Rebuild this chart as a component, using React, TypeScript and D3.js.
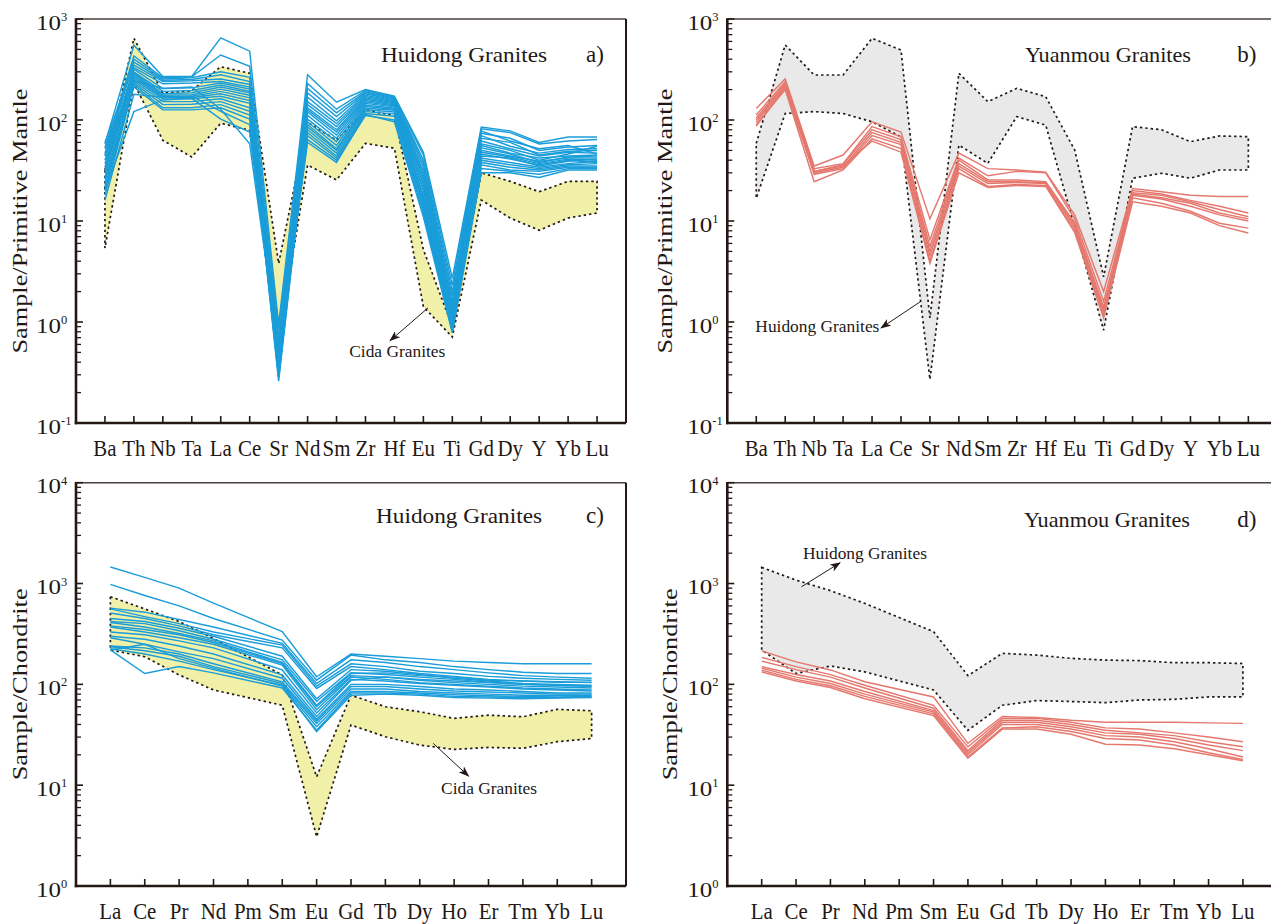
import React from 'react';
import * as d3 from 'd3';

// ---------- element orders ----------
const SPIDER_ELEMENTS = ['Ba', 'Th', 'Nb', 'Ta', 'La', 'Ce', 'Sr', 'Nd', 'Sm', 'Zr', 'Hf', 'Eu', 'Ti', 'Gd', 'Dy', 'Y', 'Yb', 'Lu'];
const REE_ELEMENTS = ['La', 'Ce', 'Pr', 'Nd', 'Pm', 'Sm', 'Eu', 'Gd', 'Tb', 'Dy', 'Ho', 'Er', 'Tm', 'Yb', 'Lu'];

// log-axis decades (exponents)
const PM_DECADES = [-1, 0, 1, 2, 3];
const CH_DECADES = [0, 1, 2, 3, 4];

// ---------- primitive-mantle normalized ----------
const huidongPM: number[][] = [
  [58, 550, 270, 270, 650, 480, 0.95, 280, 150, 200, 172, 48, 2.7, 85, 78, 60, 68, 68],
  [52, 430, 262, 268, 440, 340, 0.85, 230, 128, 196, 168, 45, 2.3, 82, 75, 58, 62, 64],
  [47, 400, 255, 262, 300, 265, 0.7, 205, 118, 190, 165, 40, 2.0, 78, 62, 52, 56, 46],
  [44, 375, 248, 252, 280, 240, 0.62, 185, 108, 186, 162, 37, 1.8, 74, 66, 50, 54, 56],
  [60, 350, 240, 245, 255, 225, 0.55, 168, 98, 182, 158, 34, 1.6, 70, 55, 47, 51, 52],
  [40, 330, 228, 232, 240, 212, 0.5, 152, 92, 176, 155, 31, 1.5, 66, 60, 45, 49, 50],
  [37, 318, 205, 208, 232, 202, 0.46, 142, 86, 171, 151, 29, 1.4, 62, 52, 44, 48, 47],
  [34, 300, 192, 196, 222, 192, 0.42, 132, 80, 166, 148, 27, 1.3, 58, 50, 40, 46, 55],
  [32, 292, 182, 186, 212, 186, 0.38, 126, 76, 160, 145, 25, 1.22, 56, 47, 42, 44, 45],
  [30, 282, 176, 178, 202, 176, 0.35, 120, 71, 156, 141, 23, 1.15, 53, 46, 38, 43, 44],
  [27, 272, 171, 172, 192, 166, 0.32, 111, 66, 151, 138, 21, 1.1, 50, 44, 39, 42, 42],
  [45, 262, 166, 167, 182, 156, 0.3, 102, 61, 146, 135, 20, 1.05, 48, 43, 37, 41, 40],
  [24, 252, 161, 162, 172, 146, 0.28, 96, 56, 141, 131, 18, 1.0, 46, 41, 36, 40, 38],
  [22, 242, 152, 152, 162, 132, 0.26, 90, 52, 136, 128, 17, 0.95, 44, 42, 35, 39, 41],
  [20, 232, 142, 143, 152, 122, 0.29, 85, 50, 131, 125, 16, 0.9, 42, 38, 34, 37, 39],
  [18, 222, 132, 132, 142, 112, 0.33, 80, 47, 126, 120, 15, 0.88, 40, 36, 33, 36, 37],
  [26, 212, 126, 126, 132, 102, 0.36, 75, 44, 121, 115, 14, 0.85, 38, 34, 32, 35, 35],
  [16, 180, 168, 172, 122, 90, 0.4, 70, 42, 116, 109, 13, 0.82, 36, 32, 31, 34, 34],
  [20, 121, 158, 164, 102, 76, 0.45, 64, 40, 111, 100, 12, 0.8, 33, 31, 29, 33, 33],
  [54, 245, 205, 212, 128, 58, 0.5, 60, 38, 113, 96, 11, 0.78, 30, 30, 27, 32, 32],
];

const yuanmouPM: number[][] = [
  [130, 255, 35, 45, 96, 76, 10.5, 47, 33, 32, 30.5, 11.5, 2.0, 21, 19.5, 18, 17.5, 17.5],
  [112, 240, 33, 37, 86, 68, 6.5, 42, 28, 31, 30, 10.5, 1.6, 20, 18.5, 16, 14, 12],
  [105, 230, 31, 36, 80, 64, 5.6, 40, 25.5, 25.5, 24.5, 9.6, 1.4, 19, 18, 15.5, 13, 11],
  [100, 222, 30, 34, 75, 60, 5.0, 37, 24.5, 24.5, 24, 9.1, 1.3, 18.5, 17, 15, 12, 10.5],
  [95, 212, 29, 33, 70, 57, 4.5, 35, 23.5, 24, 23.5, 8.6, 1.25, 18, 16.5, 14, 11.5, 10],
  [90, 200, 24.5, 32, 65, 52, 4.0, 33, 22, 23, 22.5, 8.1, 1.15, 17, 15, 12.5, 9.5, 8.5],
  [87, 205, 31, 35, 62, 48, 3.8, 30, 21.5, 22.5, 22, 7.7, 1.1, 15.5, 14, 12, 9, 7.6],
];

// Cida granites field (PM)
const cidaPMUpper = [32, 645, 185, 195, 337, 290, 3.8, 95, 63, 126, 110, 5.2, 0.9, 30, 24.7, 19.5, 24.7, 24.7];
const cidaPMLower = [5.4, 231, 63, 43, 93, 79, 0.65, 35.8, 25.5, 58.7, 52.5, 1.42, 0.71, 16.1, 10.7, 8.1, 10.7, 12.0];

// Huidong granites field (PM)
const huidongPMUpper = [58.7, 553, 279, 279, 644, 493, 1.1, 290, 152, 206, 170, 50.5, 2.8, 86, 80, 61, 69.5, 68.4];
const huidongPMLower = [16.8, 116, 121, 116, 96, 68, 0.27, 56.5, 37.2, 108, 89, 8.8, 0.83, 26.5, 29.7, 26.5, 32, 32];

// ---------- chondrite normalized REE (Pm not analysed) ----------
const huidongREE: (number | null)[][] = [
  [1460, 1150, 900, 640, null, 333, 119, 200, 190, 180, 170, 165, 160, 160, 160],
  [980, 760, 600, 450, null, 275, 110, 195, 175, 165, 150, 140, 132, 128, 128],
  [570, 520, 440, 370, null, 255, 102, 175, 165, 150, 140, 130, 122, 118, 115],
  [560, 470, 400, 330, null, 245, 96, 160, 150, 135, 128, 120, 115, 112, 110],
  [510, 450, 380, 310, null, 230, 91, 150, 140, 128, 120, 112, 108, 105, 105],
  [450, 420, 360, 300, null, 190, 72, 140, 135, 125, 115, 108, 102, 100, 98],
  [420, 400, 340, 280, null, 175, 68, 130, 125, 118, 112, 105, 100, 98, 95],
  [410, 370, 320, 270, null, 165, 62, 128, 130, 122, 118, 110, 108, 106, 104],
  [380, 350, 310, 260, null, 161, 60, 122, 118, 110, 104, 100, 96, 94, 92],
  [370, 330, 290, 250, null, 155, 56, 118, 112, 104, 100, 96, 92, 90, 88],
  [330, 310, 270, 230, null, 139, 52, 112, 108, 102, 98, 94, 90, 88, 86],
  [300, 280, 240, 200, null, 124, 48, 110, 118, 112, 108, 104, 100, 98, 96],
  [290, 250, 210, 180, null, 115, 45, 100, 100, 95, 90, 88, 85, 82, 82],
  [240, 230, 200, 160, null, 106, 43, 95, 95, 90, 86, 84, 82, 80, 80],
  [236, 215, 190, 150, null, 102, 41, 90, 90, 85, 82, 80, 78, 78, 78],
  [225, 200, 170, 140, null, 98, 38, 85, 85, 82, 79, 77, 76, 75, 76],
  [220, 128, 150, 130, null, 92, 35, 82, 82, 80, 76, 75, 74, 74, 75],
  [219, 250, 180, 145, null, 96, 34, 78, 80, 78, 74, 73, 72, 73, 74],
];

const yuanmouREE: (number | null)[][] = [
  [215, 167, 139, 106, null, 75, 26, 48, 47, 44, 42, 42, 42, 41.5, 41],
  [185, 150, 125, 98, null, 62, 24, 46, 46, 42, 37, 36, 33, 30, 27],
  [170, 140, 118, 92, null, 58, 22, 44, 44, 40, 35, 33, 31, 27, 24],
  [150, 125, 108, 85, null, 55, 21, 42, 42, 38, 33, 32, 29, 25, 22],
  [145, 118, 102, 80, null, 53, 20, 40, 40, 36, 31, 30, 27, 23, 19],
  [138, 112, 97, 76, null, 51, 19, 37, 38, 34, 29, 28, 25, 21, 18],
  [133, 108, 93, 72, null, 49, 18.5, 36, 36, 32, 25.5, 25, 23, 20, 17.5],
];

const cidaREEUpper = [740, 560, 420, 285, null, 124, 12.1, 78, 60, 53.5, 46, 49.5, 47.7, 56.5, 54.7];
const cidaREELower = [219, 188, 124, 88, null, 62, 3.08, 39.5, 30.2, 25, 22.6, 23.7, 23.2, 27, 29];

const huidongREEUpper = [1446, 1080, 850, 635, null, 333, 122, 203, 195, 181, 174, 172, 164, 164, 161];
const huidongREELower = [219, 128, 152, 133, null, 88, 35, 62, 69, 67.6, 65.8, 70, 71, 75, 75];

// ---------- styling ----------
const INK = '#231815';
const BLUE = '#1a9dd9';
const SALMON = '#e5786e';
const YELLOW = '#f1f0a9';
const GREY = '#e9e9e9';
const FONT = '"Times New Roman", "Liberation Serif", Tinos, serif';

type Vals = (number | null)[];

interface Note {
  text: string;
  textIdx: number;
  textVal: number;
  textLen: number;
  from: [number, number];
  to: [number, number];
}

interface PanelProps {
  x0: number;
  y0: number;
  w: number;
  h: number;
  cats: string[];
  decades: number[];
  lines: Vals[];
  color: string;
  fieldUpper: Vals;
  fieldLower: Vals;
  fieldFill: string;
  title: string;
  titleDx: number;
  titleDy: number;
  letter: string;
  yTitle: string;
  yTitleLen: number;
  yTitleOff: number;
  note: Note;
}

function Panel(p: PanelProps) {
  const { x0, y0, w, h, cats, decades } = p;
  const lo = decades[0];
  const hi = decades[decades.length - 1];
  const x = d3.scalePoint<string>().domain(cats).range([x0, x0 + w]).padding(1);
  const y = d3.scaleLog().domain([Math.pow(10, lo), Math.pow(10, hi)]).range([y0 + h, y0]);
  const step = x.step();
  const fx = (idx: number) => (x(cats[0]) as number) + idx * step;

  const pts = (vals: Vals): [number, number][] =>
    vals
      .map((v, i) => (v == null ? null : ([x(cats[i]) as number, y(v)] as [number, number])))
      .filter((d): d is [number, number] => d !== null);

  const line = d3.line<[number, number]>();
  const fieldPts = [...pts(p.fieldUpper), ...pts(p.fieldLower).reverse()];
  const fieldPath = line(fieldPts) + 'Z';

  const minor: number[] = [];
  for (let k = lo; k < hi; k++) {
    for (let m = 2; m <= 9; m++) minor.push(m * Math.pow(10, k));
  }

  const yb = y0 + h;
  const n = p.note;

  return (
    <g fontFamily={FONT}>
      {/* field */}
      <path d={fieldPath} fill={p.fieldFill} stroke="none" />
      <path d={fieldPath} fill="none" stroke={INK} strokeWidth={1.7} strokeDasharray="2.4,3" />
      {/* samples */}
      {p.lines.map((vals, i) => (
        <path key={i} d={line(pts(vals)) || ''} fill="none" stroke={p.color} strokeWidth={1.45} />
      ))}

      {/* frame */}
      <line x1={x0} x2={x0 + w} y1={y0} y2={y0} stroke="#4a403d" strokeWidth={1.6} />
      <line x1={x0 + w} x2={x0 + w} y1={y0} y2={yb} stroke={INK} strokeWidth={2} />
      <line x1={x0} x2={x0} y1={y0 - 0.8} y2={yb + 1.2} stroke={INK} strokeWidth={2.6} />
      <line x1={x0 - 1.2} x2={x0 + w} y1={yb} y2={yb} stroke={INK} strokeWidth={2.6} />

      {/* y ticks */}
      {decades.map((k) => (
        <line key={'M' + k} x1={x0} x2={x0 + 7} y1={y(Math.pow(10, k))} y2={y(Math.pow(10, k))} stroke={INK} strokeWidth={1.6} />
      ))}
      {minor.map((v, i) => (
        <line key={'m' + i} x1={x0} x2={x0 + 5} y1={y(v)} y2={y(v)} stroke={INK} strokeWidth={1.3} />
      ))}
      {decades.map((k) => (
        <text key={'L' + k} x={x0 - 40} y={y(Math.pow(10, k)) + 10.5} fontSize={22} fill={INK}>
          <tspan textLength={25} lengthAdjust="spacingAndGlyphs">10</tspan>
          <tspan dy={-8.5} fontSize={12.5}>{k < 0 ? '-' + Math.abs(k) : String(k)}</tspan>
        </text>
      ))}

      {/* x ticks */}
      {cats.map((c) => (
        <line key={'t' + c} x1={x(c)} x2={x(c)} y1={yb} y2={yb - 7} stroke={INK} strokeWidth={1.6} />
      ))}
      {cats.map((c) => (
        <text
          key={'x' + c}
          transform={`translate(${x(c)},${yb + 33}) scale(0.93,1)`}
          textAnchor="middle"
          fontSize={22.5}
          fill={INK}
        >
          {c}
        </text>
      ))}

      {/* axis title */}
      <text
        transform={`translate(${x0 - p.yTitleOff},${y0 + h / 2}) rotate(-90)`}
        textAnchor="middle"
        fontSize={22}
        fill={INK}
        textLength={p.yTitleLen}
        lengthAdjust="spacingAndGlyphs"
      >
        {p.yTitle}
      </text>

      {/* panel title and letter */}
      <text
        x={x0 + p.titleDx}
        y={y0 + p.titleDy}
        fontSize={22}
        fill={INK}
        textLength={166}
        lengthAdjust="spacingAndGlyphs"
      >
        {p.title}
      </text>
      <text x={x0 + 510} y={y0 + p.titleDy} fontSize={23} fill={INK}>
        {p.letter}
      </text>

      {/* annotation */}
      <line
        x1={fx(n.from[0])}
        y1={y(n.from[1])}
        x2={fx(n.to[0])}
        y2={y(n.to[1])}
        stroke={INK}
        strokeWidth={1}
        markerEnd="url(#arrowHead)"
      />
      <text
        x={fx(n.textIdx)}
        y={y(n.textVal)}
        fontSize={16}
        fill={INK}
        textLength={n.textLen}
        lengthAdjust="spacingAndGlyphs"
      >
        {n.text}
      </text>
    </g>
  );
}

export default function App() {
  const W = 1271;
  const H = 924;
  const pw = 550;
  return (
    <svg
      width={W}
      height={H}
      viewBox={`0 0 ${W} ${H}`}
      style={{ position: 'absolute', left: 0, top: 0, background: '#fff' }}
    >
      <defs>
        <marker
          id="arrowHead"
          markerUnits="userSpaceOnUse"
          markerWidth={11}
          markerHeight={8}
          refX={10}
          refY={4}
          orient="auto"
        >
          <path d="M0,0 L11,4 L0,8 L3,4 Z" fill={INK} />
        </marker>
      </defs>
      <rect x={0} y={0} width={W} height={H} fill="#fff" />

      <Panel
        x0={76}
        y0={19}
        w={pw}
        h={404}
        cats={SPIDER_ELEMENTS}
        decades={PM_DECADES}
        lines={huidongPM}
        color={BLUE}
        fieldUpper={cidaPMUpper}
        fieldLower={cidaPMLower}
        fieldFill={YELLOW}
        title="Huidong Granites"
        titleDx={305}
        titleDy={42.5}
        letter="a)"
        yTitle="Sample/Primitive Mantle"
        yTitleLen={265}
        yTitleOff={49}
        note={{
          text: 'Cida Granites',
          textIdx: 8.44,
          textVal: 0.453,
          textLen: 96,
          from: [11.16, 1.38],
          to: [9.85, 0.653],
        }}
      />
      <Panel
        x0={727.3}
        y0={19}
        w={pw}
        h={404}
        cats={SPIDER_ELEMENTS}
        decades={PM_DECADES}
        lines={yuanmouPM}
        color={SALMON}
        fieldUpper={huidongPMUpper}
        fieldLower={huidongPMLower}
        fieldFill={GREY}
        title="Yuanmou Granites"
        titleDx={297.7}
        titleDy={42.5}
        letter="b)"
        yTitle="Sample/Primitive Mantle"
        yTitleLen={265}
        yTitleOff={55}
        note={{
          text: 'Huidong Granites',
          textIdx: -0.03,
          textVal: 0.796,
          textLen: 124,
          from: [5.67, 1.59],
          to: [4.31, 0.873],
        }}
      />
      <Panel
        x0={76}
        y0={482.7}
        w={pw}
        h={403.3}
        cats={REE_ELEMENTS}
        decades={CH_DECADES}
        lines={huidongREE}
        color={BLUE}
        fieldUpper={cidaREEUpper}
        fieldLower={cidaREELower}
        fieldFill={YELLOW}
        title="Huidong Granites"
        titleDx={300}
        titleDy={40.6}
        letter="c)"
        yTitle="Sample/Chondrite"
        yTitleLen={192}
        yTitleOff={49}
        note={{
          text: 'Cida Granites',
          textIdx: 9.62,
          textVal: 8.16,
          textLen: 96,
          from: [9.39, 26],
          to: [10.42, 12.3],
        }}
      />
      <Panel
        x0={727.3}
        y0={482.7}
        w={pw}
        h={403.3}
        cats={REE_ELEMENTS}
        decades={CH_DECADES}
        lines={yuanmouREE}
        color={SALMON}
        fieldUpper={huidongREEUpper}
        fieldLower={huidongREELower}
        fieldFill={GREY}
        title="Yuanmou Granites"
        titleDx={296.7}
        titleDy={43.8}
        letter="d)"
        yTitle="Sample/Chondrite"
        yTitleLen={192}
        yTitleOff={50}
        note={{
          text: 'Huidong Granites',
          textIdx: 1.2,
          textVal: 1750,
          textLen: 124,
          from: [1.16, 929],
          to: [2.28, 1607],
        }}
      />
    </svg>
  );
}
